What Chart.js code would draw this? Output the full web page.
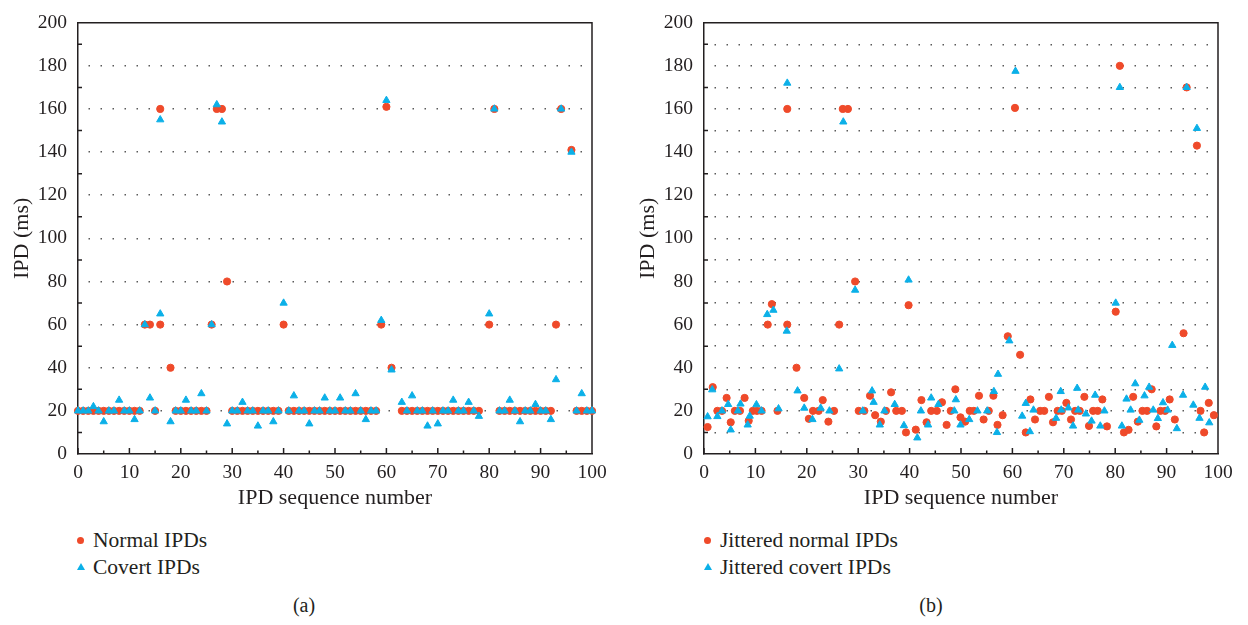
<!DOCTYPE html>
<html>
<head>
<meta charset="utf-8">
<title>IPD scatter</title>
<script src="https://cdn.jsdelivr.net/npm/chart.js@4.4.1/dist/chart.umd.min.js"></script>
<style>
  body { margin: 0; background: #fff; width: 1248px; height: 625px; position: relative; overflow: hidden;
         font-family: 'Liberation Serif', 'Times New Roman', serif; color: #231f20; }
  .panel { position: absolute; top: 0; width: 615px; height: 515px; }
  .row { position: absolute; height: 24px; line-height: 24px; font-size: 21.5px; white-space: nowrap; }
  .row span { position: absolute; left: 16px; top: 0; }
  .dot { position: absolute; left: 0; top: 8.5px; width: 7px; height: 7px; border-radius: 50%; background: #ef4a2a; }
  .tri { position: absolute; left: 0; top: 8px; width: 0; height: 0; border-left: 4px solid transparent;
         border-right: 4px solid transparent; border-bottom: 7px solid #0bb0e8; }
  .caption { position: absolute; top: 593px; width: 40px; margin-left: -20px; text-align: center; font-size: 20px; line-height: 24px; }
</style>
</head>
<body>
<div class="panel" style="left:0"><canvas id="chartA"></canvas></div>
<div class="panel" style="left:626px"><canvas id="chartB"></canvas></div>

<div class="row" style="left:77px; top:528px"><i class="dot"></i><span>Normal IPDs</span></div>
<div class="row" style="left:77px; top:555px"><i class="tri"></i><span>Covert IPDs</span></div>
<div class="row" style="left:704px; top:528px"><i class="dot"></i><span>Jittered normal IPDs</span></div>
<div class="row" style="left:704px; top:555px"><i class="tri"></i><span>Jittered covert IPDs</span></div>
<div class="caption" style="left:304px">(a)</div>
<div class="caption" style="left:931px">(b)</div>

<script>
// Axis ticks
const xTickValues = [0, 10, 20, 30, 40, 50, 60, 70, 80, 90, 100];
const xMinorTicks = [5, 15, 25, 35, 45, 55, 65, 75, 85, 95];
const yTickLabels = [0, 20, 40, 60, 80, 100, 120, 140, 160, 180, 200];
const yMinorTicks = [10, 30, 50, 70, 90, 110, 130, 150, 170, 190];

// (a) Normal IPDs
const normalX = [0, 1, 2, 3, 4, 5, 6, 7, 8, 9, 10, 11, 12, 13, 14, 15, 16, 16, 18,
  19, 20, 21, 22, 23, 24, 25, 26, 27, 28, 29,
  30, 31, 32, 33, 34, 35, 36, 37, 38, 39, 40,
  41, 42, 43, 44, 45, 46, 47, 48, 49, 50, 51, 52, 53, 54, 55, 56, 57, 58,
  59, 60, 61,
  63, 64, 65, 66, 67, 68, 69, 70, 71, 72, 73, 74, 75, 76, 77, 78,
  80, 81, 82, 83, 84, 85, 86, 87, 88, 89, 90, 91, 92, 93, 94, 96, 97, 98, 99, 100];
const normalY = [20, 20, 20, 20, 20, 20, 20, 20, 20, 20, 20, 20, 20, 60, 60, 20, 160, 60, 40,
  20, 20, 20, 20, 20, 20, 20, 60, 160, 160, 80,
  20, 20, 20, 20, 20, 20, 20, 20, 20, 20, 60,
  20, 20, 20, 20, 20, 20, 20, 20, 20, 20, 20, 20, 20, 20, 20, 20, 20, 20,
  60, 161, 40,
  20, 20, 20, 20, 20, 20, 20, 20, 20, 20, 20, 20, 20, 20, 20, 20,
  60, 160, 20, 20, 20, 20, 20, 20, 20, 20, 20, 20, 20, 60, 160, 141, 20, 20, 20, 20];

// (a) Covert IPDs
const covertX = [0, 1, 2, 3, 4, 5, 6, 7, 8, 9, 10, 11, 12, 13, 14, 15, 16, 16, 18,
  19, 20, 21, 22, 23, 24, 25, 26, 27, 28, 29,
  30, 31, 32, 33, 34, 35, 36, 37, 38, 39, 40,
  41, 42, 43, 44, 45, 46, 47, 48, 49, 50, 51, 52, 53, 54, 55, 56, 57, 58,
  59, 60, 61,
  63, 64, 65, 66, 67, 68, 69, 70, 71, 72, 73, 74, 75, 76, 77, 78,
  80, 81, 82, 83, 84, 85, 86, 87, 88, 89, 90, 91, 92, 93, 94, 96, 97, 98, 99, 100];
const covertY = [20, 20, 20, 22, 20, 15, 20, 20, 25, 20, 20, 16, 20, 60, 26, 20, 155, 65, 15,
  20, 20, 25, 20, 20, 28, 20, 60, 162, 154, 14,
  20, 20, 24, 20, 20, 13, 20, 20, 15, 20, 70,
  20, 27, 20, 20, 14, 20, 20, 26, 20, 20, 26, 20, 20, 28, 20, 16, 20, 20,
  62, 164, 39,
  24, 20, 27, 20, 20, 13, 20, 14, 20, 20, 25, 20, 20, 24, 20, 17.5,
  65, 160, 20, 20, 25, 20, 15, 20, 20, 23, 20, 20, 16, 34.5, 160, 140, 20, 28, 20, 20];

// (b) Jittered normal IPDs
const jNormalX = [0.7, 1.7, 2.6, 3.5, 4.4, 5.2, 6.0, 7.0, 7.9, 8.7, 9.5, 10.3, 11.2, 12.4, 13.2, 14.3,
  16.2, 16.2, 18.0, 19.5, 20.4, 21.2, 22.3, 23.1, 24.2, 25.3, 26.3, 27.0, 28.0, 29.4,
  30.1, 31.2, 32.3, 33.3, 34.4, 35.4, 36.4, 37.4, 38.5, 39.3, 39.8, 41.2, 42.3, 43.3, 44.2,
  45.3, 46.3, 47.2, 48.0, 48.9, 49.9, 50.8, 51.7, 52.5, 53.5, 54.4, 55.4, 56.3, 57.1, 58.1,
  59.1, 60.5, 61.5, 62.6, 63.5, 64.4, 65.4, 66.2, 67.1, 67.9, 68.8, 69.6, 70.5, 71.4, 72.2,
  73.1, 74.0, 74.9, 75.7, 76.6, 77.5, 78.4, 80.1, 80.9, 81.7, 82.6, 83.5, 84.4, 85.3, 86.2,
  87.1, 88.0, 88.8, 89.7, 90.6, 91.6, 93.3, 93.9, 95.9, 96.6, 97.3, 98.2, 99.2];
const jNormalY = [12.5, 31, 20, 20, 26, 14.7, 20, 20, 26, 15.4, 20, 20, 20, 60, 69.5, 20,
  60, 160, 40, 26, 16.3, 20, 20, 25, 15, 20, 60, 160, 160, 80,
  20, 20, 27, 18, 15, 20, 28.6, 20, 20, 10, 69, 11.3, 25, 14.7, 20,
  20, 24, 13.5, 20, 30, 17, 15, 20, 20, 27, 16, 20, 27, 13.5, 18,
  54.6, 160.5, 46, 10, 25.3, 16, 20, 20, 26.5, 14.7, 20, 20, 23.7, 16, 20,
  20, 26.5, 13, 20, 20, 25.3, 12.8, 66, 180, 10, 11.2, 26.5, 15, 20, 20,
  30, 12.8, 20, 20, 25.3, 16, 56, 170, 143, 20, 10, 23.7, 18];

// (b) Jittered covert IPDs
const jCovertX = [0.7, 1.6, 2.6, 3.5, 4.7, 5.2, 6.6, 7.1, 8.5, 8.9, 10.2, 11.2, 12.3, 13.5, 14.5,
  16.1, 16.2, 18.2, 19.5, 21.1, 22.7, 24.4, 26.3, 27.1, 29.4, 30.9, 32.7, 33.0, 34.2, 35.1,
  37.1, 38.9, 39.8, 41.5, 42.2, 43.6, 44.2, 45.6, 48.7, 49.0, 49.9, 51.6, 53.2, 55.1, 56.4,
  57.0, 57.2, 59.4, 60.6, 61.9, 62.6, 63.4, 64.1, 68.5, 69.4, 69.5, 70.9, 71.8, 72.6, 72.8,
  74.3, 75.4, 76.1, 77.1, 77.9, 80.1, 80.9, 81.3, 82.2, 83.0, 83.9, 84.7, 85.7, 86.6, 87.4,
  88.3, 89.3, 90.2, 91.1, 92.0, 93.2, 93.9, 95.2, 95.9, 96.4, 97.5, 98.3];
const jCovertY = [17.3, 29.8, 17.4, 20, 23, 11.2, 20, 23.2, 13.5, 17.6, 22.9, 20, 64.7, 66.7, 21,
  57, 172, 29.3, 21.3, 16, 21.3, 20, 39.5, 154, 76, 20, 29.3, 24, 13.5, 20,
  23, 13.2, 80.7, 7.5, 20, 13.5, 26, 23, 20, 25.2, 13.5, 16, 20, 20, 29,
  10, 37, 52.5, 177.5, 17.6, 23.5, 10.4, 20.4, 16.6, 29, 20.4, 21.4, 13, 30.5, 20.4,
  18.6, 15.3, 27.3, 13, 20, 70, 170, 13, 25.5, 20.4, 32.6, 15.7, 27, 31, 20.4,
  16.5, 23.8, 20.4, 50.4, 11.8, 27.3, 170, 22.7, 151, 16.6, 31, 14.5];

const red = '#ef4a2a';
const blue = '#0bb0e8';
const ink = '#231f20';
const gridColor = '#5a5a5a';

Chart.defaults.font.family = "'Liberation Serif', 'Times New Roman', serif";
Chart.defaults.color = ink;

function points(xs, ys) {
  return xs.map((x, i) => ({ x, y: ys[i] }));
}

// Frame on top/right plus inward tick marks
const frameTicks = {
  id: 'frameTicks',
  beforeDatasetsDraw(chart) {
    const { ctx, chartArea: a, scales: { x, y } } = chart;
    ctx.save();
    ctx.strokeStyle = ink;
    ctx.lineWidth = 1.5;
    ctx.beginPath();
    ctx.moveTo(a.left, a.top);
    ctx.lineTo(a.right, a.top);
    ctx.lineTo(a.right, a.bottom);
    xTickValues.forEach((v) => {
      const px = x.getPixelForValue(v);
      ctx.moveTo(px, a.bottom);
      ctx.lineTo(px, a.bottom - 6);
    });
    xMinorTicks.forEach((v) => {
      const px = x.getPixelForValue(v);
      ctx.moveTo(px, a.bottom);
      ctx.lineTo(px, a.bottom - 3.5);
    });
    yMinorTicks.forEach((v) => {
      const py = y.getPixelForValue(v);
      ctx.moveTo(a.left, py);
      ctx.lineTo(a.left + 4, py);
    });
    ctx.stroke();
    ctx.restore();
  }
};

function makeChart(id, sets, gridLines) {
  const ctx = document.getElementById(id).getContext('2d');
  return new Chart(ctx, {
    type: 'scatter',
    data: {
      datasets: [
        {
          label: sets[0].label,
          data: points(sets[0].x, sets[0].y),
          backgroundColor: red,
          borderColor: red,
          pointStyle: 'circle',
          pointRadius: 3.6,
          borderWidth: 1,
          clip: false,
          order: 2,
        },
        {
          label: sets[1].label,
          data: points(sets[1].x, sets[1].y),
          backgroundColor: blue,
          borderColor: blue,
          pointStyle: 'triangle',
          pointRadius: 4.2,
          borderWidth: 1,
          clip: false,
          order: 1,
        },
      ],
    },
    options: {
      responsive: true,
      maintainAspectRatio: false,
      animation: false,
      events: [],
      layout: { padding: { top: 15, right: 23, left: 0, bottom: 0 } },
      plugins: { legend: { display: false }, tooltip: { enabled: false } },
      scales: {
        x: {
          type: 'linear',
          min: 0,
          max: 100,
          afterFit: (s) => { s.height = 61; },
          afterBuildTicks: (s) => { s.ticks = xTickValues.map((v) => ({ value: v })); },
          ticks: { padding: 7, maxRotation: 0, autoSkip: false, font: { size: 19.5 }, color: ink },
          grid: { drawOnChartArea: false, drawTicks: false },
          border: { display: true, color: ink, width: 1.5 },
          title: { display: true, text: 'IPD sequence number', font: { size: 22 }, color: ink, padding: { bottom: 4 } },
        },
        y: {
          type: 'linear',
          min: 0,
          max: 200,
          afterFit: (s) => { s.width = 78; },
          ticks: {
            stepSize: 10,
            autoSkip: false,
            padding: 11,
            font: { size: 19.5 },
            color: ink,
            callback: (v) => (yTickLabels.includes(v) ? v : ''),
          },
          grid: {
            drawTicks: false,
            lineWidth: 1.5,
            color: (c) => (c.tick && gridLines.includes(c.tick.value) ? gridColor : 'rgba(0,0,0,0)'),
          },
          border: { display: true, color: ink, width: 1.5, dash: [1.5, 10.5], dashOffset: -10 },
          title: { display: true, text: 'IPD (ms)', font: { size: 22 }, color: ink, padding: { top: 9 } },
        },
      },
    },
    plugins: [frameTicks],
  });
}

// Left chart: dotted grid at labelled values, right chart: every 10
const gridA = [20, 40, 60, 80, 100, 120, 140, 160, 180];
const gridB = [10, 20, 30, 40, 50, 60, 70, 80, 90, 100, 110, 120, 130, 140, 150, 160, 170, 180, 190];

makeChart('chartA', [
  { label: 'Normal IPDs', x: normalX, y: normalY },
  { label: 'Covert IPDs', x: covertX, y: covertY },
], gridA);

makeChart('chartB', [
  { label: 'Jittered normal IPDs', x: jNormalX, y: jNormalY },
  { label: 'Jittered covert IPDs', x: jCovertX, y: jCovertY },
], gridB);
</script>
</body>
</html>
